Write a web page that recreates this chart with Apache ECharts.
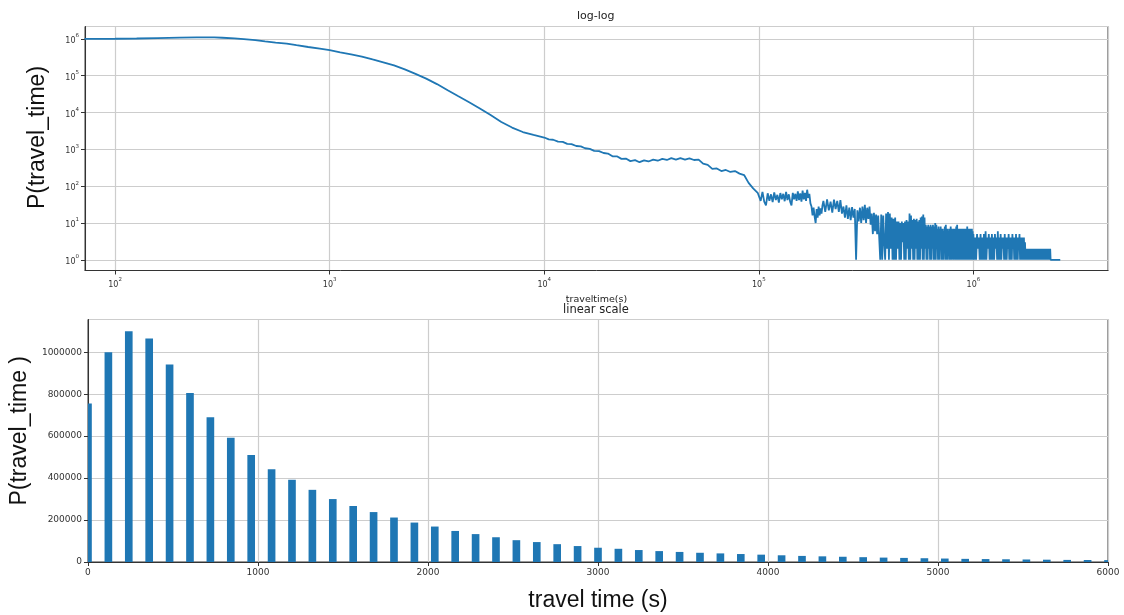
<!DOCTYPE html>
<html>
<head>
<meta charset="utf-8">
<script src="https://cdn.jsdelivr.net/npm/echarts@6/dist/echarts.min.js"></script>
<style>
html,body{margin:0;padding:0;background:#fff;}
#chart{width:1124px;height:615px;}
</style>
</head>
<body>
<div id="chart"></div>
<script>
// ---- top panel (log-log): travel time (s) and count, read segment by segment ----
const headTime = [
  72, 80, 100, 126, 158, 200, 240, 290, 316, 360, 398, 450, 500, 560, 631, 700, 794, 900,
  1000, 1120, 1259, 1413, 1585, 1778, 1995, 2239, 2512, 2818, 3162, 3548, 3981, 4467, 5012,
  5623, 6310, 7079, 7943, 8913
];
const headCount = [
  1000000, 1000000, 1005000, 1020000, 1050000, 1080000, 1100000, 1090000, 1070000, 1030000,
  980000, 920000, 850000, 790000, 740000, 670000, 600000, 540000,
  490000, 430000, 380000, 330000, 275000, 230000, 190000, 148000, 112000, 83000, 59000, 40000,
  27500, 19000, 12900, 8500, 5500, 3900, 2950, 2450
];
const midTime = [
  10000, 10500, 11000, 11600, 12200, 12800, 13400, 14100, 14800, 15500, 16300, 17100, 18000,
  18900, 19800, 20800, 21800, 22900, 24000, 25200, 26500, 27800, 29200, 30600, 32200, 33800,
  35500, 37300, 39100, 41100, 43100, 45300, 47500, 49900, 52400, 55000, 57800, 60700, 63700,
  66900, 70200, 73700, 77400, 81300, 85400, 89600, 94100, 98800
];
const midCount = [
  2090, 1860, 1820, 1620, 1585, 1410, 1380, 1230, 1200, 1070, 1023, 912, 891,
  794, 767, 646, 646, 550, 562, 479, 507, 447, 501, 468, 525, 490,
  550, 513, 575, 525, 575, 525, 569, 513, 525, 407, 380, 295, 302,
  257, 275, 243, 257, 219, 200, 123, 87, 66
];
const tailTimeA = [
  100000, 102000, 104000, 106000, 108000, 110000, 112000, 114000, 116000, 118000,
  120000, 122000, 124000, 126000, 128000, 130000, 132000, 134000, 136000, 138000,
  140000, 142000, 144000, 146000, 148000, 150000, 152000, 154000, 156000, 158000,
  160000, 162000, 164000, 166000, 168000, 170000, 172000, 174000, 176000, 178000,
  180000, 182000, 184000, 186000, 188000, 190000, 192000, 194000, 196000, 198000
];
const tailCountA = [
  66, 40, 70, 38, 30, 64, 40, 60, 37, 68,
  42, 58, 36, 65, 44, 62, 39, 70, 42, 60,
  38, 30, 66, 44, 62, 40, 72, 42, 64, 38,
  76, 44, 66, 40, 80, 48, 62, 34, 28, 16,
  26, 15, 10, 24, 14, 28, 16, 25, 18, 30
];
const tailTimeB = [
  200000, 204000, 208000, 212000, 216000, 220000, 224000, 228000, 232000, 236000,
  240000, 244000, 248000, 252000, 256000, 260000, 264000, 268000, 272000, 276000,
  280000, 284000, 288000, 292000, 296000, 300000, 304000, 308000, 312000, 316000,
  320000, 324000, 328000, 332000, 336000, 340000, 344000, 348000, 352000, 356000,
  360000, 364000, 368000, 372000, 376000, 380000, 384000, 388000, 392000, 396000
];
const tailCountB = [
  40, 20, 44, 22, 38, 19, 43, 24, 40, 20,
  42, 18, 28, 14, 30, 13, 26, 12, 27, 14,
  24, 1, 22, 11, 26, 10, 28, 12, 31, 10,
  26, 13, 28, 9, 18, 5, 19, 6, 17, 5,
  16, 4, 1, 17, 1, 16, 3, 1, 18, 2
];
const tailTimeC = [
  400000, 404000, 408000, 412000, 416000, 420000, 424000, 428000, 432000, 436000,
  440000, 444000, 448000, 452000, 456000, 460000, 464000, 468000, 472000, 476000,
  480000, 484000, 488000, 492000, 496000, 500000, 504000, 508000, 512000, 516000,
  520000, 524000, 528000, 532000, 536000, 540000, 544000, 548000, 552000, 556000,
  560000, 564000, 568000, 572000, 576000, 580000, 584000, 588000, 592000, 596000,
  600000, 604000, 608000, 612000, 616000, 620000, 624000, 628000, 632000, 636000,
  640000, 644000, 648000, 652000, 656000, 660000, 664000, 668000, 672000, 676000,
  680000, 684000, 688000, 692000, 696000, 700000, 704000, 708000, 712000, 716000,
  720000, 724000, 728000, 732000, 736000, 740000, 744000, 748000, 752000, 756000,
  760000, 764000, 768000, 772000, 776000, 780000, 784000, 788000, 792000, 796000,
  800000, 804000, 808000, 812000, 816000, 820000, 824000, 828000, 832000, 836000,
  840000, 844000, 848000, 852000, 856000, 860000, 864000, 868000, 872000, 876000,
  880000, 884000, 888000, 892000, 896000, 900000, 904000, 908000, 912000, 916000,
  920000, 924000, 928000, 932000, 936000, 940000, 944000, 948000, 952000, 956000,
  960000, 964000, 968000, 972000, 976000, 980000, 984000, 988000, 992000, 996000
];
const tailCountC = [
  20, 1, 18, 2, 14, 1, 13, 1, 14, 1,
  11, 2, 11, 1, 10, 1, 11, 3, 10, 1,
  11, 1, 12, 2, 11, 1, 18, 1, 16, 2,
  12, 1, 13, 1, 12, 2, 13, 1, 11, 1,
  12, 1, 14, 2, 15, 1, 17, 1, 14, 2,
  9, 1, 8, 1, 9, 2, 8, 1, 9, 1,
  8, 2, 9, 1, 8, 1, 10, 1, 9, 2,
  7, 1, 8, 1, 7, 2, 8, 1, 7, 1,
  7, 1, 6, 2, 8, 1, 9, 1, 7, 1,
  7, 2, 6, 1, 7, 1, 8, 1, 7, 2,
  6, 1, 7, 1, 6, 2, 7, 1, 8, 1,
  9, 1, 7, 2, 6, 1, 7, 1, 6, 1,
  7, 2, 6, 1, 7, 1, 6, 1, 7, 2,
  6, 1, 7, 1, 8, 1, 6, 2, 7, 1,
  6, 1, 7, 2, 6, 1, 7, 1, 6, 1
];
const tailTimeD = [
  1000000, 1010000, 1020000, 1030000, 1040000, 1050000, 1060000, 1070000, 1080000, 1090000,
  1100000, 1110000, 1120000, 1130000, 1140000, 1150000, 1160000, 1170000, 1180000, 1190000,
  1200000, 1210000, 1220000, 1230000, 1240000, 1250000, 1260000, 1270000, 1280000, 1290000,
  1300000, 1310000, 1320000, 1330000, 1340000, 1350000, 1360000, 1370000, 1380000, 1390000,
  1400000, 1410000, 1420000, 1430000, 1440000, 1450000, 1460000, 1470000, 1480000, 1490000,
  1500000, 1510000, 1520000, 1530000, 1540000, 1550000, 1560000, 1570000, 1580000, 1590000,
  1600000, 1610000, 1620000, 1630000, 1640000, 1650000, 1660000, 1670000, 1680000, 1690000,
  1700000, 1710000, 1720000, 1730000, 1740000, 1750000, 1760000, 1770000, 1780000, 1790000,
  1800000, 1810000, 1820000, 1830000, 1840000, 1850000, 1860000, 1870000, 1880000, 1890000,
  1900000, 1910000, 1920000, 1930000, 1940000, 1950000, 1960000, 1970000, 1980000, 1990000,
  2000000, 2010000, 2020000, 2030000, 2040000, 2050000, 2060000, 2070000, 2080000, 2090000,
  2100000, 2110000, 2120000, 2130000, 2140000, 2150000, 2160000, 2170000, 2180000, 2190000,
  2200000, 2210000, 2220000, 2230000, 2240000, 2250000, 2260000, 2270000, 2280000, 2290000,
  2300000, 2420000, 2540000
];
const tailCountD = [
  5, 1, 4, 1, 5, 2, 4, 1, 5, 1,
  4, 1, 5, 1, 6, 1, 4, 2, 5, 1,
  4, 1, 5, 1, 4, 1, 5, 2, 4, 1,
  6, 1, 4, 1, 5, 1, 4, 2, 4, 1,
  5, 1, 4, 1, 4, 2, 5, 1, 4, 1,
  4, 1, 5, 2, 4, 1, 4, 1, 5, 1,
  4, 1, 4, 2, 5, 1, 4, 1, 4, 1,
  4, 1, 4, 1, 3, 1, 2, 1, 2, 1,
  2, 1, 2, 1, 2, 1, 2, 1, 2, 1,
  2, 1, 2, 1, 2, 1, 2, 1, 2, 1,
  2, 1, 2, 1, 2, 1, 2, 1, 2, 1,
  2, 1, 2, 1, 2, 1, 2, 1, 2, 1,
  2, 1, 2, 1, 2, 1, 2, 1, 2, 1,
  1, 1, 1
];
const logTime = [].concat(headTime, midTime, tailTimeA, tailTimeB, tailTimeC, tailTimeD);
const logCount = [].concat(headCount, midCount, tailCountA, tailCountB, tailCountC, tailCountD);

// ---- bottom panel (linear scale): histogram bin centres (s) and counts ----
const histTime = [
  0, 120, 240, 360, 480, 600, 720, 840, 960, 1080, 1200, 1320, 1440, 1560, 1680, 1800, 1920,
  2040, 2160, 2280, 2400, 2520, 2640, 2760, 2880, 3000, 3120, 3240, 3360, 3480, 3600, 3720,
  3840, 3960, 4080, 4200, 4320, 4440, 4560, 4680, 4800, 4920, 5040, 5160, 5280, 5400, 5520,
  5640, 5760, 5880, 6000
];
const histCount = [
  755000, 1000000, 1100000, 1066000, 941000, 806000, 690000, 592000, 510000, 442000, 392000,
  344000, 300000, 267000, 238000, 212000, 188000, 169000, 148000, 133000, 118000, 104000,
  95000, 85000, 76000, 68000, 63000, 57000, 52000, 48000, 44000, 41000, 38000, 35000, 32000,
  29000, 27000, 25000, 23000, 21000, 19500, 18000, 16500, 15000, 14000, 13000, 12000, 11000,
  10000, 9500, 9000
];
const histBinWidth = 45; // seconds, drawn bar width

const topTitle = 'log-log';
const bottomTitle = 'linear scale';
const topXName = 'traveltime(s)';
const topYName = 'P(travel_time)';
const bottomXName = 'travel time (s)';
const bottomYName = 'P(travel_time )';

const BLUE = '#1f77b4';
const GRID = '#cdcdcd';
const AX = '#333333';
const TICKFONT = 'DejaVu Sans';
const BIGFONT = 'Liberation Sans';

function powLabel(v) {
  const e = Math.log10(v);
  const r = Math.round(e);
  if (Math.abs(e - r) > 1e-6) return '';
  return '{b|10}{s|' + r + '}';
}
const powRich = {
  b: { fontSize: 8, fontFamily: TICKFONT, color: AX, lineHeight: 12, verticalAlign: 'bottom' },
  s: { fontSize: 5.5, fontFamily: TICKFONT, color: AX, lineHeight: 12, verticalAlign: 'top' }
};

const chart = echarts.init(document.getElementById('chart'), null, { renderer: 'canvas' });

const option = {
  animation: false,
  backgroundColor: '#ffffff',
  graphic: [
    { type: 'text', left: 596 - 19, top: 11, style: { text: topTitle, font: '11px "DejaVu Sans"', fill: '#222' } },
    { type: 'text', left: 596 - 33, top: 304, style: { text: bottomTitle, font: '11.5px "DejaVu Sans"', fill: '#222' } }
  ],
  grid: [
    { left: 85, top: 26.5, width: 1023, height: 244, show: true, borderColor: AX, borderWidth: 1, backgroundColor: 'transparent' },
    { left: 85.5, top: 319.5, width: 1022.5, height: 242.5, show: true, borderColor: AX, borderWidth: 1, backgroundColor: 'transparent' }
  ],
  xAxis: [
    {
      gridIndex: 0, type: 'log', logBase: 10, min: 72.4, max: 4240000,
      name: topXName, nameLocation: 'middle', nameGap: 24,
      nameTextStyle: { fontSize: 9.5, fontFamily: TICKFONT, color: '#222' },
      axisLine: { show: true, lineStyle: { color: AX, width: 1 } },
      axisTick: { show: true, length: 4, lineStyle: { color: AX } },
      axisLabel: { formatter: powLabel, rich: powRich, margin: 6, showMinLabel: false, showMaxLabel: false },
      splitLine: { show: true, lineStyle: { color: GRID, width: 1.2 } }
    },
    {
      gridIndex: 1, type: 'value', min: 0, max: 6000, interval: 1000,
      name: bottomXName, nameLocation: 'middle', nameGap: 27,
      nameTextStyle: { fontSize: 23, fontFamily: BIGFONT, color: '#111' },
      axisLine: { show: true, onZero: false, lineStyle: { color: AX, width: 1 } },
      axisTick: { show: true, length: 4, lineStyle: { color: AX } },
      axisLabel: { formatter: v => String(v), fontSize: 9, fontFamily: TICKFONT, color: AX, margin: 6 },
      splitLine: { show: true, lineStyle: { color: GRID, width: 1.2 } }
    }
  ],
  yAxis: [
    {
      gridIndex: 0, type: 'log', logBase: 10, min: 0.513, max: 2160000,
      name: topYName, nameLocation: 'middle', nameGap: 36, nameRotate: 90,
      nameTextStyle: { fontSize: 23, fontFamily: BIGFONT, color: '#111', padding: [0, 0, 0, 22] },
      axisLine: { show: true, lineStyle: { color: AX, width: 1 } },
      axisTick: { show: true, length: 4, lineStyle: { color: AX } },
      axisLabel: { formatter: powLabel, rich: powRich, margin: 6, showMinLabel: false, showMaxLabel: false },
      splitLine: { show: true, lineStyle: { color: GRID, width: 1.2 } }
    },
    {
      gridIndex: 1, type: 'value', min: 0, max: 1156000, interval: 200000,
      name: bottomYName, nameLocation: 'middle', nameGap: 47, nameRotate: 90,
      nameTextStyle: { fontSize: 23, fontFamily: BIGFONT, color: '#111', padding: [0, 0, 0, 20] },
      axisLine: { show: true, onZero: false, lineStyle: { color: AX, width: 1 } },
      axisTick: { show: true, length: 4, lineStyle: { color: AX } },
      axisLabel: {
        formatter: v => (v % 200000 === 0 ? String(v) : ''),
        fontSize: 9, fontFamily: TICKFONT, color: AX, margin: 6, showMaxLabel: false
      },
      splitLine: { show: true, lineStyle: { color: GRID, width: 1.2 } }
    }
  ],
  series: [
    {
      type: 'line', xAxisIndex: 0, yAxisIndex: 0,
      data: logTime.map((t, i) => [t, logCount[i]]),
      showSymbol: false, symbol: 'none', clip: true,
      lineStyle: { color: BLUE, width: 1.8 },
      itemStyle: { color: BLUE }
    },
    {
      type: 'custom', xAxisIndex: 1, yAxisIndex: 1,
      data: histTime.map((t, i) => [t, histCount[i]]),
      encode: { x: 0, y: 1 },
      renderItem: function (params, api) {
        const t = api.value(0), c = api.value(1);
        const pL = api.coord([t - histBinWidth / 2, 0]);
        const pR = api.coord([t + histBinWidth / 2, c]);
        const cs = params.coordSys;
        const shape = echarts.graphic.clipRectByRect(
          { x: pL[0], y: pR[1], width: pR[0] - pL[0], height: pL[1] - pR[1] },
          { x: cs.x, y: cs.y, width: cs.width, height: cs.height }
        );
        return shape && { type: 'rect', shape: shape, style: { fill: BLUE } };
      }
    }
  ]
};
chart.setOption(option);
</script>
</body>
</html>
